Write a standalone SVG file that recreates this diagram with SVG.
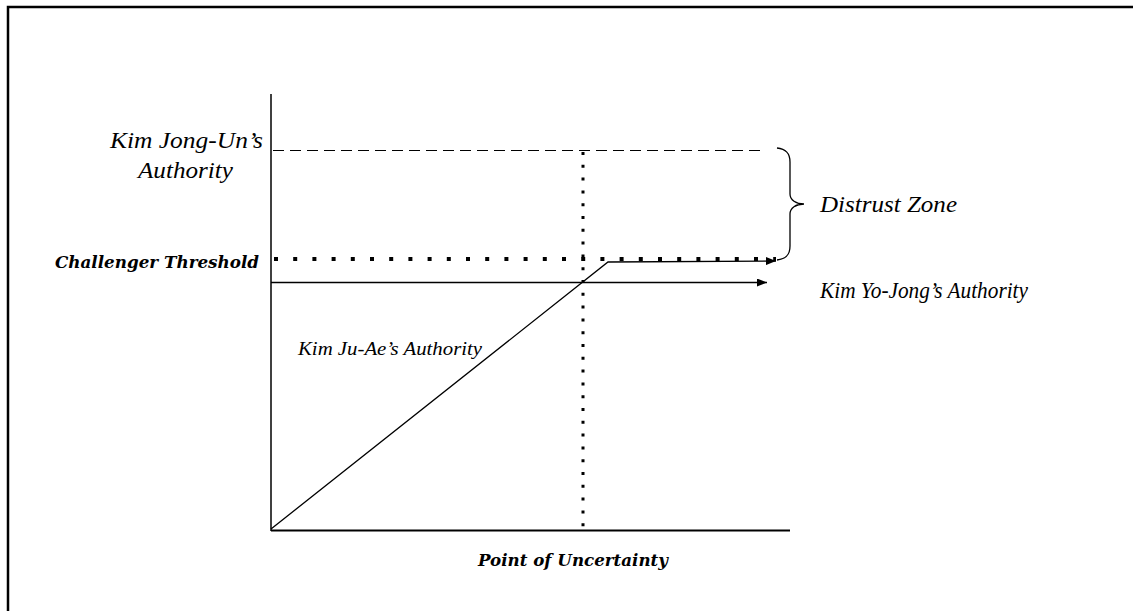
<svg xmlns="http://www.w3.org/2000/svg" width="1133" height="611" viewBox="0 0 1133 611">
<style>
.ln{stroke:#000;fill:none}
.it{font-family:"Liberation Serif",serif;font-style:italic;fill:#000}
.bi{font-family:"DejaVu Serif",serif;font-style:italic;font-weight:bold;fill:#000}
</style>
<defs>
<marker id="ah" markerWidth="10" markerHeight="8" refX="10" refY="4" orient="auto" markerUnits="userSpaceOnUse">
<path d="M0,0 L10,4 L0,8 Z" fill="#000"/>
</marker>
</defs>
<rect width="1133" height="611" fill="#fff"/>
<g id="frame">
<path class="ln" d="M8,611 V7 H1133" stroke-width="2.5"/>
</g>
<g id="axes">
<line class="ln" x1="271" y1="94" x2="271" y2="531" stroke-width="1.5"/>
<line class="ln" x1="271" y1="530.5" x2="790" y2="530.5" stroke-width="2"/>
</g>
<g id="connectors">
<line class="ln" x1="273" y1="150.5" x2="762" y2="150.5" stroke-width="1.2" stroke-dasharray="11 6"/>
<line class="ln" x1="274" y1="259" x2="776" y2="259" stroke-width="4" stroke-dasharray="4 15.2"/>
<line class="ln" x1="583" y1="152" x2="583" y2="527" stroke-width="3" stroke-dasharray="3 9.8"/>
<line class="ln" x1="271" y1="282.5" x2="767" y2="282.5" stroke-width="1.3" marker-end="url(#ah)"/>
<polyline class="ln" points="271,529 608,262 776,261" stroke-width="1.3" marker-end="url(#ah)"/>
<path class="ln" stroke-width="1.3" d="M777,148 C786,149 790,153 790,162 V194 C790,200 796,204 804,204 C796,204 790,208 790,214 V246 C790,255 786,259 777,260"/>
</g>
<g id="label-jongun">
<text class="it" x="110" y="148" font-size="24" textLength="153" lengthAdjust="spacingAndGlyphs">Kim Jong-Un’s</text>
<text class="it" x="138" y="178" font-size="24" textLength="95" lengthAdjust="spacingAndGlyphs">Authority</text>
</g>
<g id="label-threshold">
<text class="bi" x="55" y="268" font-size="17.5" textLength="204" lengthAdjust="spacingAndGlyphs">Challenger Threshold</text>
</g>
<g id="label-distrust">
<text class="it" x="820" y="212" font-size="22.5" textLength="137" lengthAdjust="spacingAndGlyphs">Distrust Zone</text>
</g>
<g id="label-yojong">
<text class="it" x="820" y="298" font-size="24" textLength="208" lengthAdjust="spacingAndGlyphs">Kim Yo-Jong’s Authority</text>
</g>
<g id="label-juae">
<text class="it" x="298" y="355" font-size="18.5" textLength="184" lengthAdjust="spacingAndGlyphs">Kim Ju-Ae’s Authority</text>
</g>
<g id="label-uncertainty">
<text class="bi" x="478" y="566" font-size="17.5" textLength="190" lengthAdjust="spacingAndGlyphs">Point of Uncertainty</text>
</g>
</svg>
